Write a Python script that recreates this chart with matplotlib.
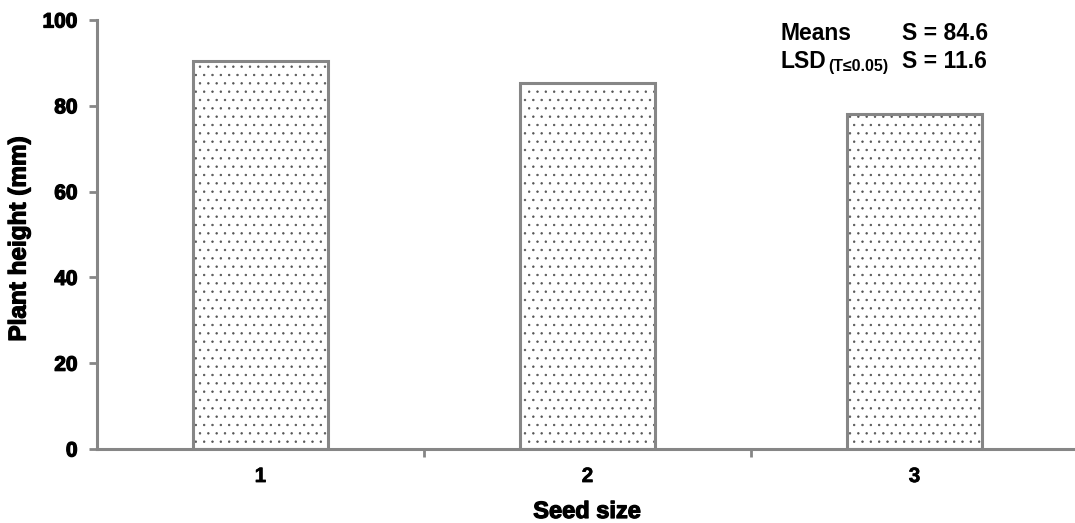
import matplotlib.pyplot as plt
import matplotlib.patheffects as pe

plt.rcParams['font.family'] = ['Liberation Sans', 'DejaVu Sans']
plt.rcParams['hatch.linewidth'] = 0.5

# data
categories = ['1', '2', '3']
heights = [90.4, 85.3, 78.1]
y_ticks = [0, 20, 40, 60, 80, 100]

grey = '#868686'
heavy = [pe.withStroke(linewidth=0.9, foreground='black')]

fig = plt.figure(figsize=(10.75, 5.23), dpi=100)
ax = fig.add_axes([97 / 1075, 1 - 449 / 523, 981 / 1075, 429 / 523])

x = range(len(categories))
# dotted fill
ax.bar(x, heights, width=0.41, color='white', edgecolor='#555555',
       hatch='..', linewidth=0, zorder=2)
# grey outline
ax.bar(x, heights, width=0.41, fill=False, edgecolor=grey,
       linewidth=2.2, zorder=3)

ax.set_xlim(-0.5, 2.5)
ax.set_ylim(0, 100)
ax.set_yticks(y_ticks)
ax.set_xticks(x)
ax.set_xticklabels(categories)
ax.set_xticks([0.5, 1.5], minor=True)

for s in ['top', 'right']:
    ax.spines[s].set_visible(False)
for s in ['left', 'bottom']:
    ax.spines[s].set_color(grey)
    ax.spines[s].set_linewidth(2.2)
ax.spines['bottom'].set_zorder(4)

ax.tick_params(axis='y', direction='out', length=6, width=2, color=grey,
               labelsize=15, pad=8)
ax.tick_params(axis='x', which='major', length=0, labelsize=15, pad=13)
ax.tick_params(axis='x', which='minor', direction='out', length=6,
               width=2, color=grey)
for lbl in ax.get_yticklabels():
    lbl.set_fontweight('bold')
    lbl.set_path_effects(heavy)
for lbl in ax.get_xticklabels():
    lbl.set_fontweight('bold')
    lbl.set_path_effects([pe.withStroke(linewidth=0.4, foreground='black')])

# axis titles
fig.text(587 / 1075, 1 - 518 / 523, 'Seed size', fontsize=17, fontweight='bold',
         ha='center', va='baseline', path_effects=heavy)
fig.text(19 / 1075, 1 - 239 / 523, 'Plant height (mm)', fontsize=17.5,
         fontweight='bold', rotation=90, ha='center', va='center',
         path_effects=heavy)

# stats text
fig.text(780 / 1075, 1 - 40 / 523, 'Means', fontsize=16.5, fontweight='bold',
         va='baseline')
fig.text(902 / 1075, 1 - 40 / 523, 'S = 84.6', fontsize=16.5, fontweight='bold',
         va='baseline')
fig.text(780 / 1075, 1 - 68 / 523, 'LSD', fontsize=16.5, fontweight='bold',
         va='baseline')
fig.text(828 / 1075, 1 - 71 / 523, '(T\u22640.05)', fontsize=11.5, fontweight='bold',
         va='baseline')
fig.text(902 / 1075, 1 - 68 / 523, 'S = 11.6', fontsize=16.5, fontweight='bold',
         va='baseline')

plt.savefig('out.png', dpi=100)
